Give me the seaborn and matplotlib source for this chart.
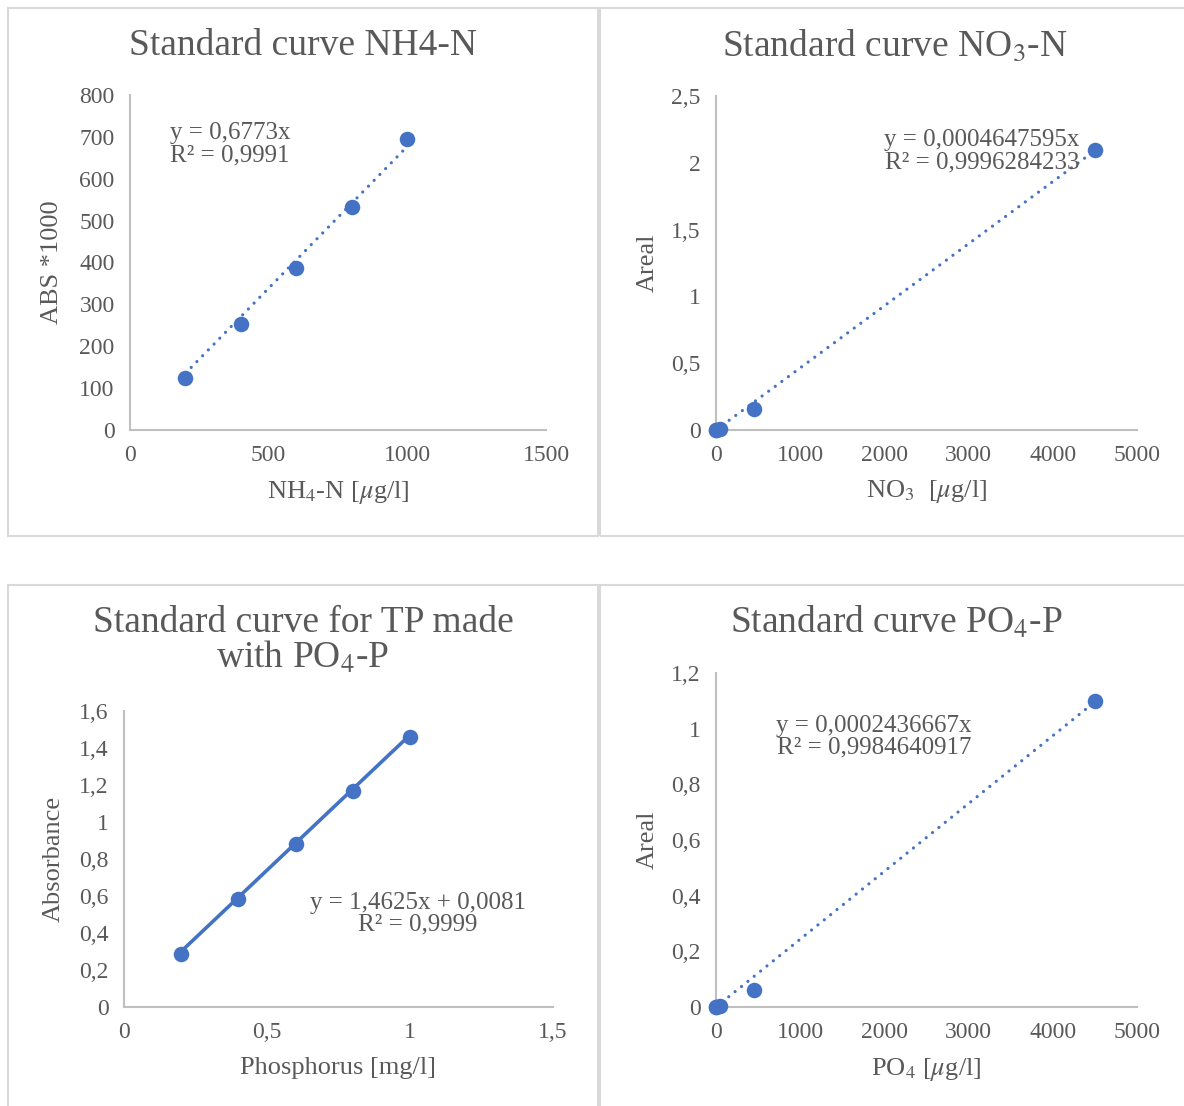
import numpy as np
import pandas as pd
import matplotlib
matplotlib.use("Agg")
import matplotlib.pyplot as plt
import seaborn as sns
from matplotlib.patches import Rectangle
from matplotlib.ticker import FuncFormatter

# ── data ──────────────────────────────────────────────────────
nh4_conc = [200, 400, 600, 800, 1000]
nh4_abs = [123, 254, 388, 533, 694]

no3_conc = [0, 4.5, 45, 450, 4500]
no3_area = [0.0, 0.001, 0.01, 0.16, 2.095]

tp_conc = [0.2, 0.4, 0.6, 0.8, 1.0]
tp_abs = [0.286, 0.584, 0.881, 1.168, 1.459]

po4_conc = [0, 4.5, 45, 450, 4500]
po4_area = [0.0, 0.0, 0.005, 0.062, 1.10]

# trendline coefficients (slope, intercept) as printed on the chart
nh4_fit = (0.6773, 0.0)
no3_fit = (0.0004647595, 0.0)
tp_fit = (1.4625, 0.0081)
po4_fit = (0.0002436667, 0.0)

BLUE = "#4472C4"
TXT = "#595959"
AXC = "#BFBFBF"
W, H = 1184, 1106

sns.set_theme(style="white")
plt.rcParams["font.family"] = ["Liberation Serif", "DejaVu Serif"]
plt.rcParams["mathtext.fontset"] = "stix"
plt.rcParams["text.color"] = TXT

fig = plt.figure(figsize=(W / 100, H / 100), dpi=100)


def px_axes(l, r, t, b):
    return fig.add_axes([l / W, 1 - b / H, (r - l) / W, (b - t) / H])


def comma(v, pos):
    s = f"{v:g}"
    return s.replace(".", ",")


# panel frames
for x0, y0, x1, y1 in [(8, 8, 598, 536), (600, 8, 1192, 536),
                       (8, 585, 598, 1112), (600, 585, 1192, 1112)]:
    fig.patches.append(Rectangle((x0 / W, 1 - y1 / H), (x1 - x0) / W, (y1 - y0) / H,
                                 transform=fig.transFigure, fill=False,
                                 edgecolor="#D9D9D9", linewidth=1.5))


def panel(box, x, y, fit, xlim, xstep, ylim, ystep, xlabel, ylabel,
          ylab_x, xlab_y, eq, eq_pos, eq_ha="left", dotted=True):
    ax = px_axes(*box)
    df = pd.DataFrame({"x": x, "y": y})
    xs = np.array([min(x), max(x)])
    trend = pd.DataFrame({"x": xs, "y": fit[0] * xs + fit[1]})
    if dotted:
        sns.lineplot(data=trend, x="x", y="y", ax=ax, color=BLUE, linewidth=2.3,
                     linestyle=(0, (0.01, 2.55)), dash_capstyle="round")
    else:
        sns.lineplot(data=trend, x="x", y="y", ax=ax, color=BLUE, linewidth=2.6)
    sns.scatterplot(data=df, x="x", y="y", ax=ax, color=BLUE, s=125,
                    edgecolor=BLUE, linewidth=0, zorder=5, clip_on=False)
    ax.set_xlim(*xlim)
    ax.set_ylim(*ylim)
    ax.set_xticks(np.arange(xlim[0], xlim[1] + xstep / 2, xstep))
    ax.set_yticks(np.arange(ylim[0], ylim[1] + ystep / 2, ystep))
    ax.xaxis.set_major_formatter(FuncFormatter(comma))
    ax.yaxis.set_major_formatter(FuncFormatter(comma))
    ax.tick_params(length=0, labelsize=17, colors=TXT, pad=11)
    for s in ["top", "right"]:
        ax.spines[s].set_visible(False)
    for s in ["left", "bottom"]:
        ax.spines[s].set_color(AXC)
        ax.spines[s].set_linewidth(1.5)
    ax.set_xlabel(xlabel, fontsize=19, color=TXT)
    ax.set_ylabel(ylabel, fontsize=19, color=TXT)
    ax.xaxis.set_label_coords(0.5, xlab_y)
    ax.yaxis.set_label_coords(ylab_x, 0.5)
    ax.text(eq_pos[0], eq_pos[1], eq, transform=ax.transAxes, fontsize=18,
            color=TXT, ha=eq_ha, va="top", linespacing=1.0, multialignment="center")
    return ax


panel((130, 546, 95, 430), nh4_conc, nh4_abs, nh4_fit, (0, 1500), 500, (0, 800), 100,
      r"NH$_4$-N [$\mu$g/l]", "ABS *1000", -0.16, -0.145,
      "y = 0,6773x\nR² = 0,9991", (0.095, 0.918))
panel((716, 1137, 96, 430), no3_conc, no3_area, no3_fit, (0, 5000), 1000, (0, 2.5), 0.5,
      r"NO$_3$  [$\mu$g/l]", "Areal", -0.135, -0.145,
      "y = 0,0004647595x\nR² = 0,9996284233", (0.40, 0.90))
panel((124, 553, 711, 1007), tp_conc, tp_abs, tp_fit, (0, 1.5), 0.5, (0, 1.6), 0.2,
      "Phosphorus [mg/l]", "Absorbance", -0.137, -0.17,
      "y = 1,4625x + 0,0081\nR² = 0,9999", (0.685, 0.39), eq_ha="center", dotted=False)
panel((716, 1137, 673, 1007), po4_conc, po4_area, po4_fit, (0, 5000), 1000, (0, 1.2), 0.2,
      r"PO$_4$ [$\mu$g/l]", "Areal", -0.135, -0.148,
      "y = 0,0002436667x\nR² = 0,9984640917", (0.143, 0.875))

# titles
for cx, cy, t in [(303, 46, "Standard curve NH4-N"),
                  (895, 46, r"Standard curve NO$_3$-N"),
                  (303, 641, "Standard curve for TP made\n" + r"with PO$_4$-P"),
                  (896, 623, r"Standard curve PO$_4$-P")]:
    fig.text(cx / W, 1 - cy / H, t, fontsize=27, color=TXT, ha="center", va="center",
             linespacing=1.0)

fig.savefig("out.png", dpi=100, facecolor="white")
